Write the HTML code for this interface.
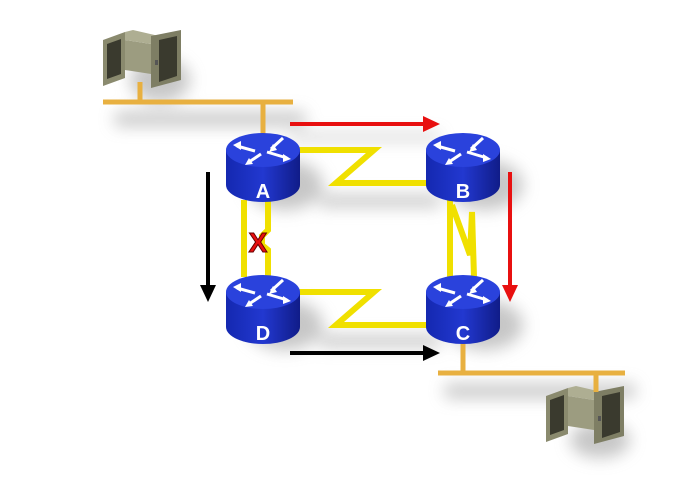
<!DOCTYPE html>
<html><head><meta charset="utf-8"><style>
html,body{margin:0;padding:0;background:#fff;width:680px;height:480px;overflow:hidden}
</style></head><body>
<svg width="680" height="480" viewBox="0 0 680 480" xmlns="http://www.w3.org/2000/svg">
<defs>
<filter id="sh" x="-50%" y="-50%" width="200%" height="200%"><feGaussianBlur stdDeviation="8"/></filter>
<linearGradient id="body" x1="0" x2="1"><stop offset="0" stop-color="#1428b0"/><stop offset="0.5" stop-color="#2238d0"/><stop offset="1" stop-color="#101c88"/></linearGradient>
<g id="router">
<path d="M-37,0 L-37,35 A37,17 0 0 0 37,35 L37,0 Z" fill="url(#body)"/>
<ellipse cx="0" cy="0" rx="37" ry="17" fill="#2a42dc"/>
<g stroke="#fff" stroke-width="3" fill="none">
<line x1="-26" y1="-4" x2="-8" y2="1"/><line x1="8" y1="-1" x2="20" y2="-12"/>
<line x1="-14" y1="12" x2="-2" y2="4"/><line x1="4" y1="2" x2="24" y2="8"/>
</g>
<g fill="#fff"><polygon points="-30,-5 -22,-9 -22,0"/><polygon points="6,2 10,-6 14,0"/><polygon points="-18,15 -10,14 -14,8"/><polygon points="28,9 20,4 20,12"/></g>
</g>
<g id="server">
<polygon points="0,10 22,2 22,48 0,56" fill="#8a8a6e"/>
<polygon points="4,14 18,9 18,44 4,49" fill="#3a3a2e"/>
<polygon points="22,10 48,14 48,44 22,40" fill="#9c9c80"/>
<polygon points="22,2 30,0 56,6 48,14 22,10" fill="#aeae92"/>
<polygon points="48,6 78,0 78,50 48,58" fill="#7e7e64"/>
<polygon points="56,10 74,6 74,46 56,52" fill="#3a3a2e"/>
<rect x="52" y="30" width="3" height="5" fill="#555"/>
</g>
</defs>
<g fill="#999" opacity="0.55" filter="url(#sh)">
<rect x="115" y="112" width="190" height="14"/>
<ellipse cx="160" cy="80" rx="30" ry="22"/>
<ellipse cx="285" cy="185" rx="38" ry="25"/><ellipse cx="485" cy="185" rx="38" ry="25"/>
<ellipse cx="285" cy="325" rx="38" ry="25"/><ellipse cx="485" cy="325" rx="38" ry="25"/>
<rect x="320" y="195" width="120" height="12"/><rect x="320" y="335" width="120" height="12"/>
<rect x="445" y="384" width="190" height="14"/>
<ellipse cx="600" cy="440" rx="30" ry="18"/>
<rect x="290" y="134" width="150" height="6"/>
</g>
<use href="#server" x="103" y="30"/>
<use href="#server" x="546" y="386"/>
<g stroke="#e8b040" stroke-width="5" fill="none">
<line x1="103" y1="102" x2="293" y2="102"/>
<line x1="140" y1="82" x2="140" y2="102"/>
<line x1="263" y1="102" x2="263" y2="136"/>
<line x1="438" y1="373" x2="625" y2="373"/>
<line x1="463" y1="340" x2="463" y2="373"/>
<line x1="596" y1="373" x2="596" y2="392"/>
</g>
<g stroke="#f0e000" stroke-width="6" fill="none" stroke-linejoin="miter">
<polyline points="298,150 374,150 336,183 428,183"/>
<polyline points="298,292 374,292 336,325 428,325"/>
<line x1="244" y1="200" x2="244" y2="277"/>
<polyline points="268,200 268,230 262,236 262,245 268,250 268,277"/>
<line x1="450" y1="200" x2="450" y2="277"/>
<polyline points="452,205 470,255 472,212 474,277"/>
</g>
<text x="258" y="252" font-family="Liberation Sans, sans-serif" font-weight="bold" font-size="28" fill="#e81010" stroke="#600" stroke-width="1" text-anchor="middle">X</text>
<use href="#router" x="263" y="150"/>
<use href="#router" x="463" y="150"/>
<use href="#router" x="263" y="292"/>
<use href="#router" x="463" y="292"/>
<g font-family="Liberation Sans, sans-serif" font-weight="bold" font-size="20" fill="#fff" text-anchor="middle">
<text x="263" y="198">A</text><text x="463" y="198">B</text>
<text x="263" y="340">D</text><text x="463" y="340">C</text>
</g>
<g stroke-width="4">
<line x1="290" y1="124" x2="425" y2="124" stroke="#e81010"/>
<line x1="510" y1="172" x2="510" y2="288" stroke="#e81010"/>
<line x1="208" y1="172" x2="208" y2="288" stroke="#000"/>
<line x1="290" y1="353" x2="425" y2="353" stroke="#000"/>
</g>
<polygon points="423,116 440,124 423,132" fill="#e81010"/>
<polygon points="502,285 510,302 518,285" fill="#e81010"/>
<polygon points="200,285 208,302 216,285" fill="#000"/>
<polygon points="423,345 440,353 423,361" fill="#000"/>
</svg>
</body></html>
